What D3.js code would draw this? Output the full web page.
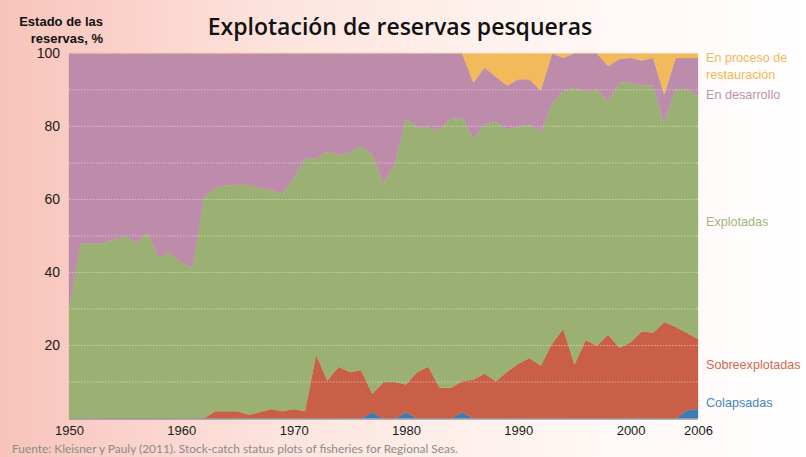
<!DOCTYPE html>
<html>
<head>
<meta charset="utf-8">
<script src="https://cdn.jsdelivr.net/npm/d3@7"></script>
<style>
body { margin: 0; }
svg { display: block; }
</style>
</head>
<body>
<script>
// years 1950 - 2006
var years = [1950, 1951, 1952, 1953, 1954, 1955, 1956, 1957, 1958, 1959,
    1960, 1961, 1962, 1963, 1964, 1965, 1966, 1967, 1968, 1969,
    1970, 1971, 1972, 1973, 1974, 1975, 1976, 1977, 1978, 1979,
    1980, 1981, 1982, 1983, 1984, 1985, 1986, 1987, 1988, 1989,
    1990, 1991, 1992, 1993, 1994, 1995, 1996, 1997, 1998, 1999,
    2000, 2001, 2002, 2003, 2004, 2005, 2006];

// % of stocks in each state, bottom to top
var colapsadas = [0, 0, 0, 0, 0, 0, 0, 0, 0, 0,
    0, 0, 0, 0, 0, 0, 0, 0, 0, 0,
    0, 0, 0, 0, 0, 0, 0, 1.7, 0, 0,
    1.7, 0, 0, 0, 0, 1.7, 0, 0, 0, 0,
    0, 0, 0, 0, 0, 0, 0, 0, 0, 0,
    0, 0, 0, 0, 0, 2.2, 2.7];
var sobreexplotadas = [0, 0, 0, 0, 0, 0, 0, 0, 0, 0,
    0, 0, 0, 2, 2, 2, 1, 1.8, 2.6, 2,
    2.6, 2, 17.5, 10.4, 14.2, 12.7, 13.2, 5.1, 10, 10,
    7.6, 12.7, 14.2, 8.4, 8.4, 8.5, 10.7, 12.3, 10.2, 12.8,
    15, 16.6, 14.5, 20.5, 24.6, 14.8, 21.5, 20, 23, 19.4,
    20.9, 23.9, 23.5, 26.4, 25.1, 21.3, 19.1];
var explotadas = [30, 48, 48, 48, 49, 50, 48, 51, 44, 45.5,
    42.5, 41.5, 60.5, 61.2, 61.8, 62, 63, 61.4, 60, 59.6,
    63.3, 69.2, 53.7, 62.7, 58.1, 60.1, 61.4, 65.5, 54.4, 59.6,
    72.8, 67.1, 65.4, 70.6, 73.7, 72.1, 66, 68.2, 71, 66.4,
    64.9, 63.9, 64, 65.5, 65.1, 75.8, 68, 70.1, 63.9, 72.7,
    71.2, 67.3, 67.7, 54.4, 65, 66.8, 66.5];
var desarrollo = [70, 52, 52, 52, 51, 50, 52, 49, 56, 54.5,
    57.5, 58.5, 39.5, 36.8, 36.2, 36, 36, 36.8, 37.4, 38.4,
    34.1, 28.8, 28.8, 26.9, 27.7, 27.2, 25.4, 27.7, 35.6, 30.4,
    17.9, 20.2, 20.4, 21, 17.9, 17.7, 15.3, 15.6, 12.4, 12,
    13, 12.4, 11.3, 14, 9.1, 9.4, 10.5, 9.9, 9.6, 6.4,
    6.7, 6.8, 7.6, 8, 8.6, 8.4, 10.4];
var restauracion = [0, 0, 0, 0, 0, 0, 0, 0, 0, 0,
    0, 0, 0, 0, 0, 0, 0, 0, 0, 0,
    0, 0, 0, 0, 0, 0, 0, 0, 0, 0,
    0, 0, 0, 0, 0, 0, 8, 3.9, 6.4, 8.8,
    7.1, 7.1, 10.2, 0, 1.2, 0, 0, 0, 3.5, 1.5,
    1.2, 2, 1.2, 11.2, 1.3, 1.3, 1.3];

var yTicks = [20, 40, 60, 80, 100];
var yGrid = [10, 20, 30, 40, 50, 60, 70, 80, 90, 100];
var xTicks = [1950, 1960, 1970, 1980, 1990, 2000, 2006];

var keys = ['colapsadas', 'sobreexplotadas', 'explotadas', 'desarrollo', 'restauracion'];
var fills = {
    colapsadas: '#3b7cb8',
    sobreexplotadas: '#c95f46',
    explotadas: '#9bb174',
    desarrollo: '#bc8caa',
    restauracion: '#f3ba5b'
};
var labels = [
    {lines: ['En proceso de', 'restauración'], y: 62, color: '#f4b75a'},
    {lines: ['En desarrollo'], y: 99, color: '#c08fae'},
    {lines: ['Explotadas'], y: 226, color: '#a1b67c'},
    {lines: ['Sobreexplotadas'], y: 369, color: '#d5684f'},
    {lines: ['Colapsadas'], y: 407, color: '#4886c3'}
];

var W = 806, H = 457;

var rows = years.map(function (yr, i) {
    return {
        year: yr,
        colapsadas: colapsadas[i],
        sobreexplotadas: sobreexplotadas[i],
        explotadas: explotadas[i],
        desarrollo: desarrollo[i],
        restauracion: restauracion[i]
    };
});

var svg = d3.select('body').append('svg')
    .attr('width', W)
    .attr('height', H);

var grad = svg.append('defs').append('linearGradient')
    .attr('id', 'bg')
    .attr('x1', '0%').attr('y1', '0%')
    .attr('x2', '100%').attr('y2', '0%');
grad.append('stop').attr('offset', '0%').attr('stop-color', '#f8c3ba');
grad.append('stop').attr('offset', '35%').attr('stop-color', '#fde4de');
grad.append('stop').attr('offset', '70%').attr('stop-color', '#fff6f3');
grad.append('stop').attr('offset', '100%').attr('stop-color', '#ffffff');

svg.append('rect')
    .attr('width', W).attr('height', H)
    .attr('fill', 'url(#bg)');

var x = d3.scaleLinear().domain([1950, 2006]).range([69, 698]);
var y = d3.scaleLinear().domain([0, 100]).range([418.5, 53.3]);

var stacked = d3.stack().keys(keys)(rows);

var area = d3.area()
    .x(function (d) { return x(d.data.year); })
    .y0(function (d) { return y(d[0]); })
    .y1(function (d) { return y(d[1]); });

svg.append('g').selectAll('path')
    .data(stacked)
    .enter().append('path')
    .attr('d', area)
    .attr('fill', function (d) { return fills[d.key]; })
    .attr('stroke', function (d) { return fills[d.key]; })
    .attr('stroke-width', 0.3);

// dotted grid
svg.append('g').selectAll('line')
    .data(yGrid)
    .enter().append('line')
    .attr('x1', 69).attr('x2', 698)
    .attr('y1', function (d) { return y(d); })
    .attr('y2', function (d) { return y(d); })
    .attr('stroke', '#ffffff')
    .attr('stroke-opacity', 0.45)
    .attr('stroke-width', 1)
    .attr('stroke-dasharray', '1.5,1.5');

// baseline
svg.append('line')
    .attr('x1', 69).attr('x2', 698)
    .attr('y1', y(0) + 0.5).attr('y2', y(0) + 0.5)
    .attr('stroke', '#9a9a9a')
    .attr('stroke-width', 1.5);

var yAxis = d3.axisLeft(y).tickValues(yTicks).tickSize(0).tickPadding(0);
var gy = svg.append('g').attr('transform', 'translate(60,0)').call(yAxis);
gy.select('.domain').remove();
gy.selectAll('text')
    .attr('font-family', 'Liberation Sans, Arial, sans-serif')
    .attr('font-size', 14)
    .attr('fill', '#1a1a1a');

var xAxis = d3.axisBottom(x).tickValues(xTicks).tickFormat(d3.format('d')).tickSize(0).tickPadding(0);
var gx = svg.append('g').attr('transform', 'translate(0,426)').call(xAxis);
gx.select('.domain').remove();
gx.selectAll('text')
    .attr('font-family', 'Liberation Sans, Arial, sans-serif')
    .attr('font-size', 13)
    .attr('fill', '#1a1a1a');

// y title
svg.append('text')
    .attr('x', 103).attr('y', 26)
    .attr('text-anchor', 'end')
    .attr('font-family', 'Liberation Sans, Arial, sans-serif')
    .attr('font-weight', 'bold')
    .attr('font-size', 13)
    .attr('fill', '#111')
    .selectAll('tspan')
    .data(['Estado de las', 'reservas, %'])
    .enter().append('tspan')
    .attr('x', 103)
    .attr('dy', function (d, i) { return i ? 17 : 0; })
    .text(function (d) { return d; });

// title
svg.append('text')
    .attr('x', 400).attr('y', 35)
    .attr('text-anchor', 'middle')
    .attr('font-family', 'Open Sans, sans-serif')
    .attr('font-weight', 600)
    .attr('font-size', 23)
    .attr('fill', '#111')
    .text('Explotación de reservas pesqueras');

// series labels
svg.append('g').selectAll('text')
    .data(labels)
    .enter().append('text')
    .attr('x', 706)
    .attr('y', function (d) { return d.y; })
    .attr('font-family', 'Liberation Sans, Arial, sans-serif')
    .attr('font-size', 12.6)
    .attr('fill', function (d) { return d.color; })
    .each(function (d) {
        d3.select(this).selectAll('tspan')
            .data(d.lines)
            .enter().append('tspan')
            .attr('x', 706)
            .attr('dy', function (t, i) { return i ? 17 : 0; })
            .text(function (t) { return t; });
    });

// source
svg.append('text')
    .attr('x', 12).attr('y', 453)
    .attr('font-family', 'Lato, sans-serif')
    .attr('font-size', 11.9)
    .attr('fill', '#8a8a8a')
    .text('Fuente: Kleisner y Pauly (2011). Stock-catch status plots of fisheries for Regional Seas.');
</script>
</body>
</html>
